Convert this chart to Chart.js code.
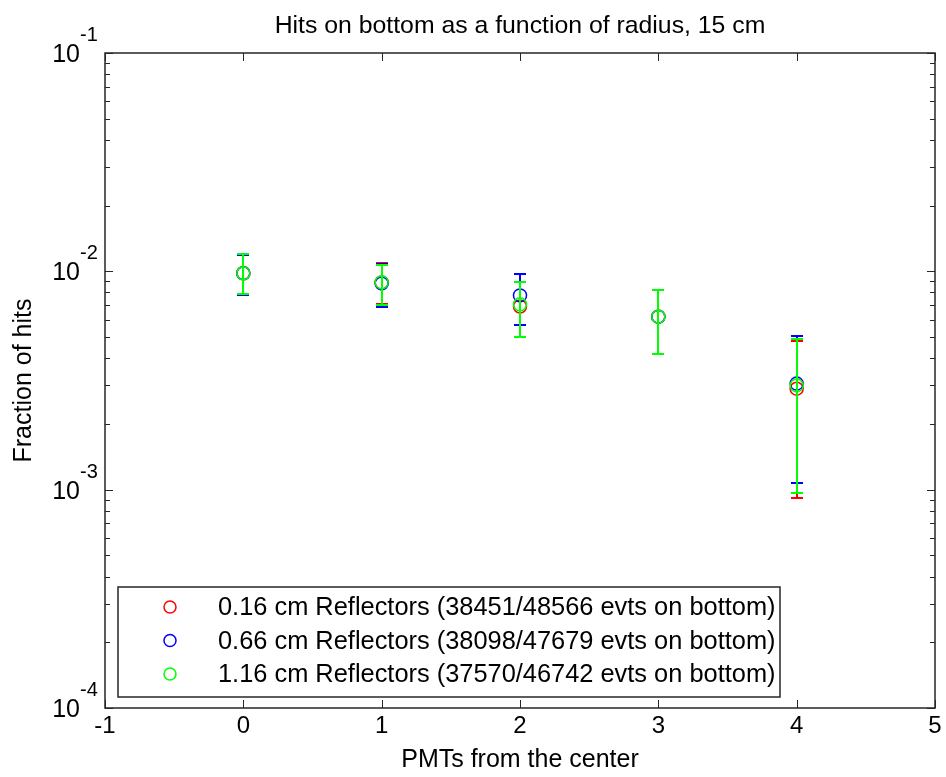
<!DOCTYPE html>
<html>
<head>
<meta charset="utf-8">
<script src="https://cdn.jsdelivr.net/npm/chart.js@4/dist/chart.umd.min.js"></script>
<style>
html,body{margin:0;padding:0;background:#fff;}
#wrap{width:946px;height:777px;position:relative;}
</style>
</head>
<body>
<div id="wrap"><canvas id="c" width="946" height="777"></canvas></div>
<script>
// ---- data ----
const chartTitle = 'Hits on bottom as a function of radius, 15 cm';
const xAxisLabel = 'PMTs from the center';
const yAxisLabel = 'Fraction of hits';
const xPositions = [0, 1, 2, 3, 4];
const xTickValues = [-1, 0, 1, 2, 3, 4, 5];
const yTickExponents = [-4, -3, -2, -1];
const seriesLabels = [
  '0.16 cm Reflectors (38451/48566 evts on bottom)',
  '0.66 cm Reflectors (38098/47679 evts on bottom)',
  '1.16 cm Reflectors (37570/46742 evts on bottom)'
];
const seriesColors = ['#ff0000', '#0000ff', '#00ff00'];

const redValues   = [0.0098, 0.0089, 0.0069, 0.0062, 0.0029];
const redLower    = [0.0079, 0.00706, 0.00498, 0.0042, 0.00092];
const redUpper    = [0.0119, 0.0109, 0.0089, 0.0082, 0.0048];

const blueValues  = [0.0098, 0.0088, 0.00776, 0.0062, 0.00306];
const blueLower   = [0.0078, 0.00684, 0.00565, 0.0042, 0.00107];
const blueUpper   = [0.0119, 0.0108, 0.0097, 0.0082, 0.00503];

const greenValues = [0.0098, 0.0089, 0.00706, 0.0062, 0.0030];
const greenLower  = [0.0079, 0.0070, 0.0050, 0.0042, 0.00097];
const greenUpper  = [0.0120, 0.0107, 0.0089, 0.0082, 0.00488];

const seriesValues = [redValues, blueValues, greenValues];
const seriesLower = [redLower, blueLower, greenLower];
const seriesUpper = [redUpper, blueUpper, greenUpper];

const FONT = '"Liberation Sans", Arial, Helvetica, sans-serif';

const datasets = seriesValues.map((vals, i) => ({
  label: seriesLabels[i],
  data: xPositions.map((x, j) => ({x: x, y: vals[j]})),
  borderColor: seriesColors[i],
  backgroundColor: 'rgba(0,0,0,0)',
  pointBorderColor: seriesColors[i],
  pointBackgroundColor: 'rgba(0,0,0,0)',
  pointRadius: 6.5,
  pointBorderWidth: 1.5,
  pointHoverRadius: 6.5,
  showLine: false,
  order: 3 - i
}));

const matlabPlugin = {
  id: 'matlab',
  beforeDatasetDraw(chart, args) {
    const i = args.index;
    const ctx = chart.ctx;
    const xs = chart.scales.x, ys = chart.scales.y;
    ctx.save();
    ctx.strokeStyle = seriesColors[i];
    ctx.lineWidth = 2;
    ctx.lineCap = 'butt';
    const cap = 6;
    xPositions.forEach((x, j) => {
      const px = Math.round(xs.getPixelForValue(x));
      const lo = Math.round(ys.getPixelForValue(seriesLower[i][j]));
      const hi = Math.round(ys.getPixelForValue(seriesUpper[i][j]));
      ctx.beginPath();
      ctx.moveTo(px, lo + 1); ctx.lineTo(px, hi - 1);
      ctx.moveTo(px - cap, lo); ctx.lineTo(px + cap, lo);
      ctx.moveTo(px - cap, hi); ctx.lineTo(px + cap, hi);
      ctx.stroke();
    });
    ctx.restore();
  },
  afterDraw(chart) {
    const ctx = chart.ctx;
    const a = chart.chartArea;
    const xs = chart.scales.x, ys = chart.scales.y;
    ctx.save();
    // box
    ctx.strokeStyle = '#262626';
    ctx.lineWidth = 1.5;
    ctx.strokeRect(a.left, a.top, a.right - a.left, a.bottom - a.top);
    ctx.lineWidth = 1;
    ctx.beginPath();
    // x ticks (inside, top and bottom)
    xTickValues.forEach(v => {
      const px = Math.round(xs.getPixelForValue(v)) + 0.5;
      ctx.moveTo(px, a.bottom); ctx.lineTo(px, a.bottom - 8);
      ctx.moveTo(px, a.top); ctx.lineTo(px, a.top + 8);
    });
    // y ticks major + minor
    yTickExponents.forEach((e, k) => {
      const base = Math.pow(10, e);
      const py = Math.round(ys.getPixelForValue(base)) + 0.5;
      ctx.moveTo(a.left, py); ctx.lineTo(a.left + 8, py);
      ctx.moveTo(a.right, py); ctx.lineTo(a.right - 8, py);
      if (k < yTickExponents.length - 1) {
        for (let m = 2; m <= 9; m++) {
          const my = Math.round(ys.getPixelForValue(base * m)) + 0.5;
          ctx.moveTo(a.left, my); ctx.lineTo(a.left + 5, my);
          ctx.moveTo(a.right, my); ctx.lineTo(a.right - 5, my);
        }
      }
    });
    ctx.stroke();

    // y tick labels 10^e
    ctx.fillStyle = '#000';
    yTickExponents.forEach(e => {
      const py = ys.getPixelForValue(Math.pow(10, e));
      ctx.font = '25px ' + FONT;
      ctx.textAlign = 'right';
      ctx.textBaseline = 'alphabetic';
      ctx.fillText('10', 80, py + 9);
      ctx.font = '20px ' + FONT;
      ctx.textAlign = 'left';
      ctx.fillText(String(e), 80, py - 12);
    });

    // title
    ctx.font = '24.8px ' + FONT;
    ctx.textAlign = 'center';
    ctx.textBaseline = 'alphabetic';
    ctx.fillText(chartTitle, (a.left + a.right) / 2, 33);

    // legend
    const lx = 118, ly = 587, lw = 662, lh = 110;
    ctx.fillStyle = '#fff';
    ctx.fillRect(lx, ly, lw, lh);
    ctx.strokeStyle = '#262626';
    ctx.lineWidth = 1.5;
    ctx.strokeRect(lx, ly, lw, lh);
    chart.data.datasets.forEach((ds, i) => {
      const cy = 607 + i * 33.5;
      ctx.beginPath();
      ctx.strokeStyle = ds.borderColor;
      ctx.lineWidth = 1.5;
      ctx.arc(170, cy, 6, 0, Math.PI * 2);
      ctx.stroke();
      ctx.fillStyle = '#000';
      ctx.font = '25.4px ' + FONT;
      ctx.textAlign = 'left';
      ctx.textBaseline = 'middle';
      ctx.fillText(ds.label, 218, cy + 1);
    });
    ctx.restore();
  }
};

new Chart(document.getElementById('c'), {
  type: 'scatter',
  data: { datasets: datasets },
  options: {
    responsive: false,
    animation: false,
    devicePixelRatio: 1,
    layout: { padding: { left: 0, top: 53, right: 11, bottom: 0 } },
    plugins: { legend: { display: false }, tooltip: { enabled: false }, title: { display: false } },
    scales: {
      x: {
        type: 'linear', min: -1, max: 5,
        afterBuildTicks: s => { s.ticks = xTickValues.map(v => ({value: v})); },
        afterFit: s => { s.height = 69; },
        grid: { display: false, drawTicks: false },
        border: { display: false },
        ticks: { color: '#000', font: { family: FONT, size: 24 }, padding: 4, callback: v => String(v) },
        title: { display: true, text: xAxisLabel, color: '#000', font: { family: FONT, size: 25 }, padding: { top: 0, bottom: 2 } }
      },
      y: {
        type: 'logarithmic', min: 1e-4, max: 1e-1,
        afterFit: s => { s.width = 105; },
        grid: { display: false, drawTicks: false },
        border: { display: false },
        ticks: { display: false },
        title: { display: true, text: yAxisLabel, color: '#000', font: { family: FONT, size: 25 }, padding: { top: 9, bottom: 0 } }
      }
    }
  },
  plugins: [matlabPlugin]
});
</script>
</body>
</html>
